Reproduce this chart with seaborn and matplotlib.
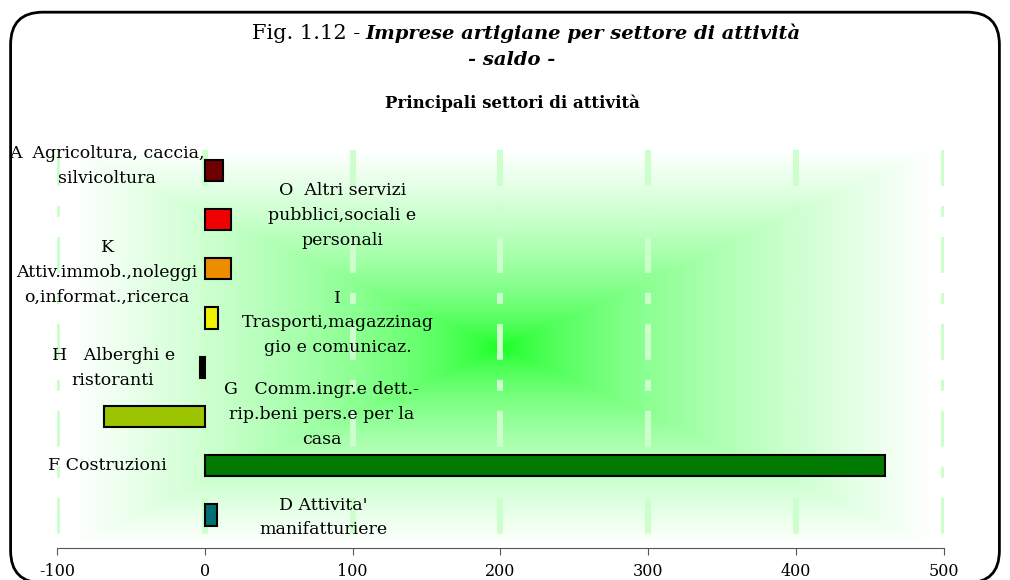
import numpy as np
import pandas as pd
import matplotlib.pyplot as plt
import seaborn as sns
from matplotlib.patches import FancyBboxPatch

# categories (top to bottom) and balance values
sectors = ["A  Agricoltura, caccia,\nsilvicoltura",
           "O  Altri servizi\npubblici,sociali e\npersonali",
           "K\nAttiv.immob.,noleggi\no,informat.,ricerca",
           "I\nTrasporti,magazzinag\ngio e comunicaz.",
           "H   Alberghi e\nristoranti",
           "G   Comm.ingr.e dett.-\nrip.beni pers.e per la\ncasa",
           "F Costruzioni",
           "D Attivita'\nmanifatturiere"]
saldo = [12, 18, 18, 9, -3, -68, 460, 8]
bar_colors = ["#6e0000", "#f20000", "#ee8c00", "#f2f200",
              "#000000", "#9cc400", "#007a00", "#006f73"]
xticks = [-100, 0, 100, 200, 300, 400, 500]

df = pd.DataFrame({"sector": sectors, "saldo": saldo})

sns.set_style("white")
plt.rcParams['font.family'] = ['DejaVu Serif']
plt.rcParams['lines.scale_dashes'] = False
plt.rcParams['text.color'] = 'black'
plt.rcParams['xtick.color'] = 'black'

fig = plt.figure(figsize=(10.1, 5.8), dpi=100)
ax = fig.add_axes([0.0564, 0.0552, 0.8782, 0.6862])
ytop, ybot = -0.41, 7.67

# background gradient (rectangular, from centre)
gx = np.linspace(-1, 1, 400)
gy = np.linspace(-1, 1, 200)
GX, GY = np.meshgrid(gx, gy)
t = np.clip(np.maximum(np.abs(GX), np.abs(GY)), 0, 1) ** 0.6
centre = np.array([0.05, 1.0, 0.1])
img = centre[None, None, :] * (1 - t[..., None]) + np.ones(3)[None, None, :] * t[..., None]
ax.imshow(img, extent=[-92, 492, 7.6, -0.4], aspect='auto', zorder=0, interpolation='bilinear')

# dashed light-green gridlines, drawn from the top down
for xv in xticks:
    ax.plot([xv, xv], [ytop, ybot - 0.1], color="#ccffcc", lw=4.3,
            linestyle=(0, (25.9, 14.4, 7.9, 14.4)), zorder=1)

sns.barplot(data=df, x="saldo", y="sector", hue="sector", palette=bar_colors,
            legend=False, orient="h", width=0.43, edgecolor="black", linewidth=1.5,
            saturation=1, ax=ax, zorder=3)

ax.set_xlim(-100, 500)
ax.set_ylim(ybot, ytop)
ax.set_xticks(xticks)
ax.set_xticklabels([str(v) for v in xticks], fontsize=11.5)
ax.set_yticks([])
ax.set_xlabel("")
ax.set_ylabel("")
for s in ["top", "right", "left"]:
    ax.spines[s].set_visible(False)
ax.spines["bottom"].set_color("#555555")
ax.tick_params(axis='x', bottom=True, length=5, color="#555555", pad=6)

# category labels beside bars
label_pos = [(-66, -0.08), (93, -0.08), (-66, 0.08), (90, 0.1),
             (-62, 0.02), (79, -0.04), (-66, 0.0), (80, 0.05)]
for i, (txt, (lx, dy)) in enumerate(zip(sectors, label_pos)):
    ax.text(lx, i + dy, txt, ha='center', va='center', fontsize=12.5,
            linespacing=1.6, zorder=4)

# titles
fig.text(0.357, 0.943, "Fig. 1.12 -", ha='right', va='center', fontsize=15)
fig.text(0.3614, 0.943, "Imprese artigiane per settore di attività", ha='left', va='center',
         fontsize=14, fontweight='bold', fontstyle='italic')
fig.text(0.507, 0.897, "- saldo -", ha='center', va='center',
         fontsize=14, fontweight='bold', fontstyle='italic')
fig.text(0.507, 0.822, "Principali settori di attività", ha='center', va='center',
         fontsize=12, fontweight='bold')

# rounded border
border = FancyBboxPatch((0.0105, -0.005), 0.979, 0.984, boxstyle="round,pad=0,rounding_size=0.032",
                        transform=fig.transFigure, fill=False, ec="black", lw=2,
                        mutation_aspect=1010/580)
fig.patches.append(border)

fig.savefig("out.png", dpi=100)
